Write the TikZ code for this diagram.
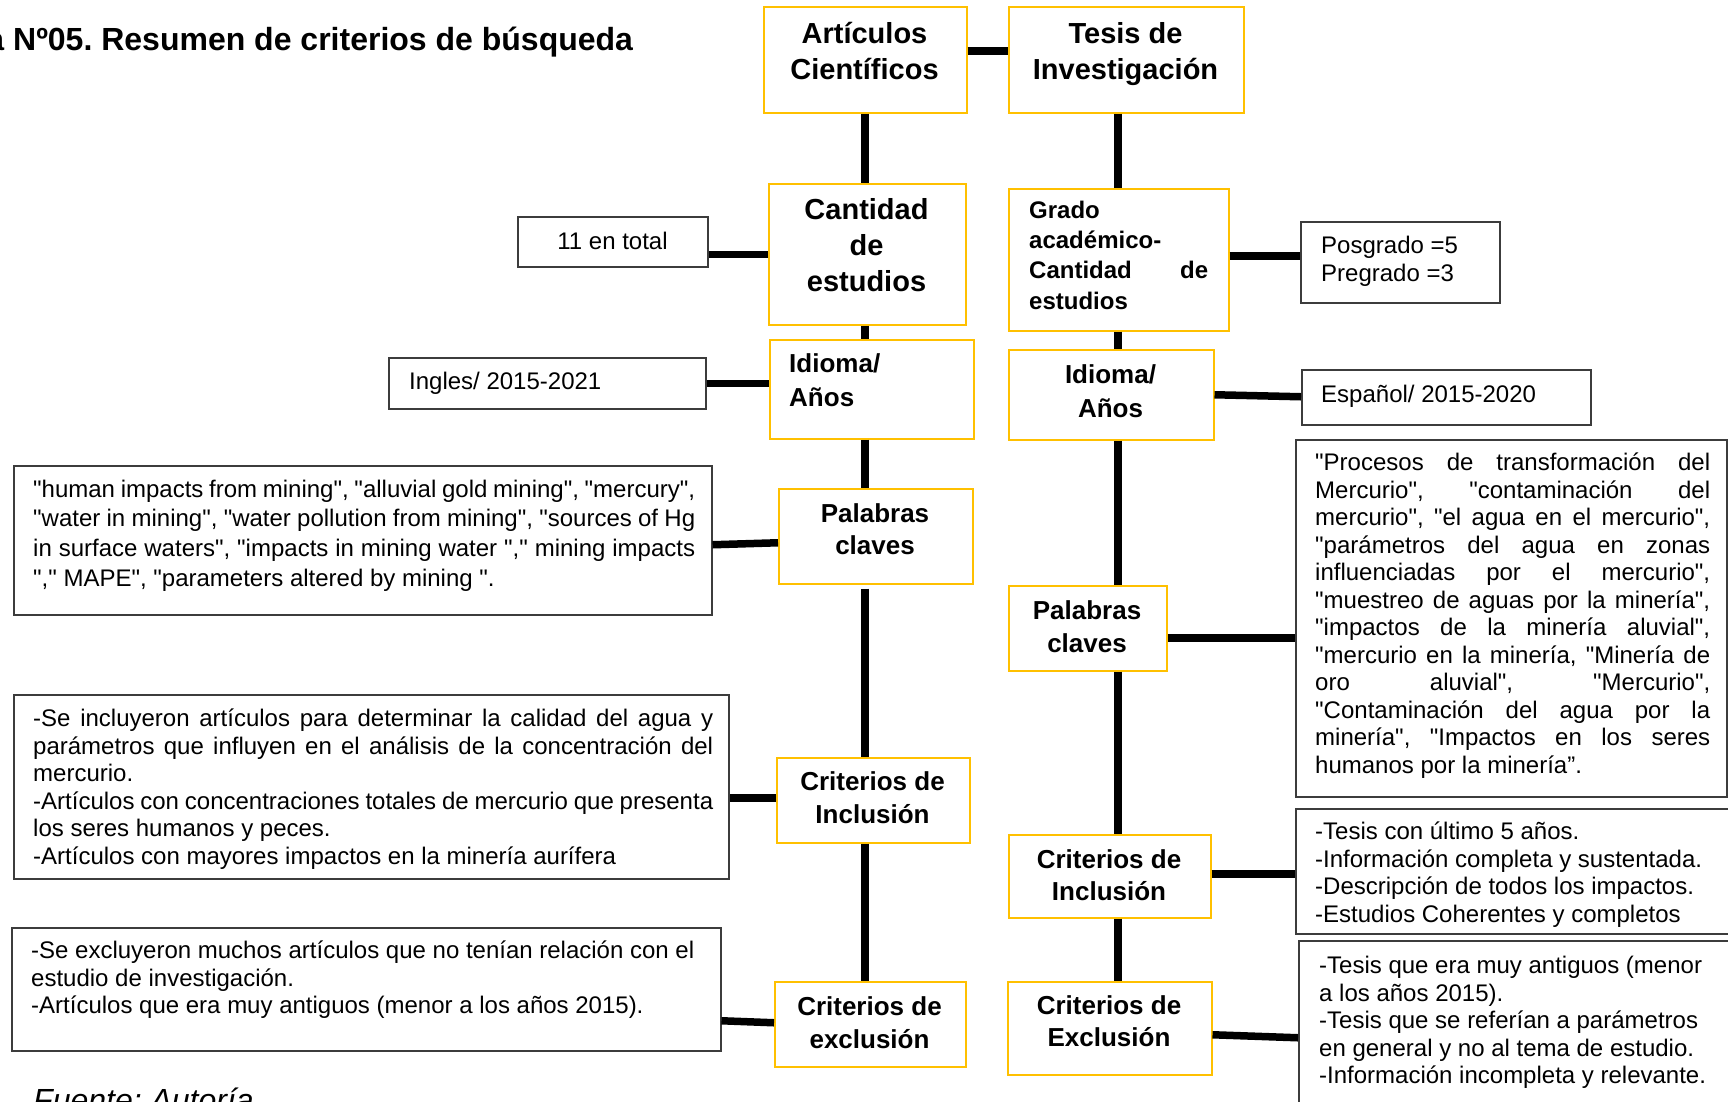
\documentclass[tikz,border=0pt]{standalone}
\usepackage{fontspec}
\setmainfont{Liberation Sans}[Ligatures=TeXOff]
\usetikzlibrary{calc}
\definecolor{gold}{HTML}{FFC000}
\definecolor{dgray}{HTML}{3C3C3C}
\newcommand\jl[2]{\leavevmode\hbox to #1{\spaceskip=0pt \xspaceskip=0pt #2}}
\newcommand\fs[2]{\fontsize{#1}{#2}\selectfont}
\newcommand\tp{\spaceskip=0pt \xspaceskip=0pt \rule{0pt}{26pt}}
\begin{document}
\frenchspacing
\begin{tikzpicture}[x=1pt,y=-1pt,
  ybox/.style={draw=gold, line width=1.5pt, inner sep=0pt, anchor=north west},
  gbox/.style={draw=dgray, line width=1.5pt, inner sep=0pt, anchor=north west},
  conn/.style={line width=7.5pt, line cap=butt},
  hd/.style={font=\bfseries\fs{26}{33}, align=center, inner sep=0pt, anchor=north},
  hdb/.style={font=\bfseries\fs{29}{36.5}, align=center, inner sep=0pt, anchor=north},
  bt/.style={font=\fs{24}{27.5}, inner sep=0pt, anchor=north west, align=left},
]
\useasboundingbox (0,0) rectangle (1728,1101);

% title and source
\node[font=\bfseries\fs{32}{38}, anchor=base west, inner sep=0pt] (title) at (-13.7,50) {a Nº05. Resumen de criterios de búsqueda};
\node[font=\itshape\fs{32}{38}, anchor=base west, inner sep=0pt] (src) at (33,1111) {Fuente: Autoría};

% yellow boxes, left column
\node[ybox, minimum width=203pt, minimum height=106pt] (art) at (763,6) {};
\node[ybox, minimum width=197pt, minimum height=141pt] (cant) at (768,183) {};
\node[ybox, minimum width=204pt, minimum height=99pt] (idl) at (769,339) {};
\node[ybox, minimum width=194pt, minimum height=95pt] (pal) at (778,488) {};
\node[ybox, minimum width=193pt, minimum height=85pt] (inc) at (776,757) {};
\node[ybox, minimum width=191pt, minimum height=85pt] (exc) at (774,981) {};
% yellow boxes, right column
\node[ybox, minimum width=235pt, minimum height=106pt] (tes) at (1008,6) {};
\node[ybox, minimum width=220pt, minimum height=142pt] (gra) at (1008,188) {};
\node[ybox, minimum width=205pt, minimum height=90pt] (idr) at (1008,349) {};
\node[ybox, minimum width=158pt, minimum height=85pt] (palr) at (1008,585) {};
\node[ybox, minimum width=202pt, minimum height=83pt] (incr) at (1008,834) {};
\node[ybox, minimum width=204pt, minimum height=93pt] (excr) at (1007,981) {};

% detail boxes
\node[gbox, minimum width=190pt, minimum height=50pt] (a) at (517,216) {};
\node[gbox, minimum width=317pt, minimum height=51pt] (b) at (388,357) {};
\node[gbox, minimum width=698pt, minimum height=149pt] (c) at (13,465) {};
\node[gbox, minimum width=715pt, minimum height=184pt] (d) at (13,694) {};
\node[gbox, minimum width=709pt, minimum height=123pt] (e) at (11,927) {};
\node[gbox, minimum width=199pt, minimum height=81pt] (f) at (1300,221) {};
\node[gbox, minimum width=289pt, minimum height=55pt] (g) at (1301,369) {};
\node[gbox, minimum width=431pt, minimum height=357pt] (h) at (1295,439) {};
\node[gbox, minimum width=445pt, minimum height=125pt] (i) at (1295,808) {};
\node[gbox, minimum width=442pt, minimum height=180pt] (j) at (1298,940) {};

% header texts
\node[hdb] (art-t) at (864.5,17) {\tp Artículos\\Científicos};
\node[hdb, font=\bfseries\fs{29}{36}] (cant-t) at (866.5,193) {\tp Cantidad\\de\\estudios};
\node[hd, align=left, anchor=north west, font=\bfseries\fs{26}{34}] (idl-t) at (789,346) {\tp Idioma/\\Años};
\node[hd, font=\bfseries\fs{26}{32}] (pal-t) at (875,496) {\tp Palabras\\claves};
\node[hd] (inc-t) at (872.5,764) {\tp Criterios de\\Inclusión};
\node[hd] (exc-t) at (869.5,989) {\tp Criterios de\\exclusión};
\node[hdb] (tes-t) at (1125.5,17) {\tp Tesis de\\Investigación};
\node[font=\bfseries\fs{24}{30.3}, inner sep=0pt, anchor=north west, align=left, text width=185pt] (gra-t) at (1029,192)
  {\tp Grado\\académico-\\\jl{179pt}{Cantidad de}\\estudios};
\node[hd, font=\bfseries\fs{26}{34}] (idr-t) at (1110.5,357) {\tp Idioma/\\Años};
\node[hd] (palr-t) at (1087,593) {\tp Palabras\\claves};
\node[hd, font=\bfseries\fs{26}{32}] (incr-t) at (1109,842) {\tp Criterios de\\Inclusión};
\node[hd, font=\bfseries\fs{26}{32}] (excr-t) at (1109,988) {\tp Criterios de\\Exclusión};

% detail texts
\node[font=\fs{24}{28}, anchor=base, inner sep=0pt] (a-t) at (612.5,249) {11 en total};
\node[font=\fs{24}{28}, anchor=base west, inner sep=0pt] (b-t) at (409,389) {Ingles/ 2015-2021};
\node[bt, font=\fs{24}{28}] (f-t) at (1321,227.5) {\tp Posgrado =5\\Pregrado =3};
\node[font=\fs{24}{28}, anchor=base west, inner sep=0pt] (g-t) at (1321,402) {Español/ 2015-2020};

\node[bt, font=\fs{24}{29.75}, text width=670pt] (c-t) at (33,471) {\tp
\jl{662pt}{"human impacts from mining", "alluvial gold mining", "mercury",}\\
\jl{662pt}{"water in mining", "water pollution from mining", "sources of Hg}\\
\jl{662pt}{in surface waters", "impacts in mining water "," mining impacts}\\
"," MAPE", "parameters altered by mining ".};

\node[bt, text width=690pt] (d-t) at (33,700.5) {\tp
\jl{680pt}{-Se incluyeron artículos para determinar la calidad del agua y}\\
\jl{680pt}{parámetros que influyen en el análisis de la concentración del}\\
mercurio.\\
\jl{680pt}{-Artículos con concentraciones totales de mercurio que presenta}\\
los seres humanos y peces.\\
-Artículos con mayores impactos en la minería aurífera};

\node[bt, text width=690pt] (e-t) at (31,932.5) {\tp
-Se excluyeron muchos artículos que no tenían relación con el\\
estudio de investigación.\\
-Artículos que era muy antiguos (menor a los años 2015).};

\node[bt, text width=400pt] (h-t) at (1315,444.5) {\tp
\jl{395pt}{"Procesos de transformación del}\\
\jl{395pt}{Mercurio", "contaminación del}\\
\jl{395pt}{mercurio", "el agua en el mercurio",}\\
\jl{395pt}{"parámetros del agua en zonas}\\
\jl{395pt}{influenciadas por el mercurio",}\\
\jl{395pt}{"muestreo de aguas por la minería",}\\
\jl{395pt}{"impactos de la minería aluvial",}\\
\jl{395pt}{"mercurio en la minería, "Minería de}\\
\jl{395pt}{oro aluvial", "Mercurio",}\\
\jl{395pt}{"Contaminación del agua por la}\\
\jl{395pt}{minería", "Impactos en los seres}\\
humanos por la minería”.};

\node[bt, text width=420pt] (i-t) at (1315,813.5) {\tp
-Tesis con último 5 años.\\
-Información completa y sustentada.\\
-Descripción de todos los impactos.\\
-Estudios Coherentes y completos};

\node[bt, text width=420pt] (j-t) at (1319,947.5) {\tp
-Tesis que era muy antiguos (menor\\
a los años 2015).\\
-Tesis que se referían a parámetros\\
en general y no al tema de estudio.\\
-Información incompleta y relevante.};

% spines
\coordinate (sl) at (865,0);
\coordinate (sr) at (1118,0);
\coordinate (palb) at ($(pal.south)+(0,4)$);
\draw[conn] (art.south -| sl) -- (cant.north -| sl);
\draw[conn] (cant.south -| sl) -- (idl.north -| sl);
\draw[conn] (idl.south -| sl) -- (pal.north -| sl);
\draw[conn] (palb -| sl) -- (inc.north -| sl);
\draw[conn] (inc.south -| sl) -- (exc.north -| sl);
\draw[conn] (tes.south -| sr) -- (gra.north -| sr);
\draw[conn] (gra.south -| sr) -- (idr.north -| sr);
\draw[conn] (idr.south -| sr) -- (palr.north -| sr);
\draw[conn] (palr.south -| sr) -- (incr.north -| sr);
\draw[conn] (incr.south -| sr) -- (excr.north -| sr);

% horizontal links
\coordinate (k1) at ($(art.east)+(0,-9)$);
\coordinate (k2) at ($(c.east)+(0,4.5)$);
\coordinate (k3) at ($(pal.west)+(0,6.5)$);
\coordinate (k4) at ($(inc.west)+(0,-2.5)$);
\coordinate (k5) at ($(exc.west)+(0,-1.5)$);
\coordinate (k6) at ($(exc.west)+(0,-3.5)$);
\coordinate (k7) at ($(gra.east)+(0,-4)$);
\coordinate (k8) at ($(g.west)+(0,-0.5)$);
\coordinate (k9) at ($(palr.east)+(0,9.5)$);
\coordinate (k10) at ($(incr.east)+(0,-2.5)$);
\coordinate (k11) at ($(excr.east)+(0,6.5)$);
\coordinate (k12) at ($(excr.east)+(0,9.5)$);
\draw[conn] (k1) -- (k1 -| tes.west);
\draw[conn] (cant.west) -- (cant.west -| a.east);
\draw[conn] (b.east) -- (b.east -| idl.west);
\draw[conn] (k2) -- (k3);
\draw[conn] (k4) -- (k4 -| d.east);
\draw[conn] (k5) -- (k6 -| e.east);
\draw[conn] (k7) -- (k7 -| f.west);
\draw[conn] (idr.east) -- (k8);
\draw[conn] (k9) -- (k9 -| h.west);
\draw[conn] (k10) -- (k10 -| i.west);
\draw[conn] (k11) -- (k12 -| j.west);
\end{tikzpicture}
\end{document}
